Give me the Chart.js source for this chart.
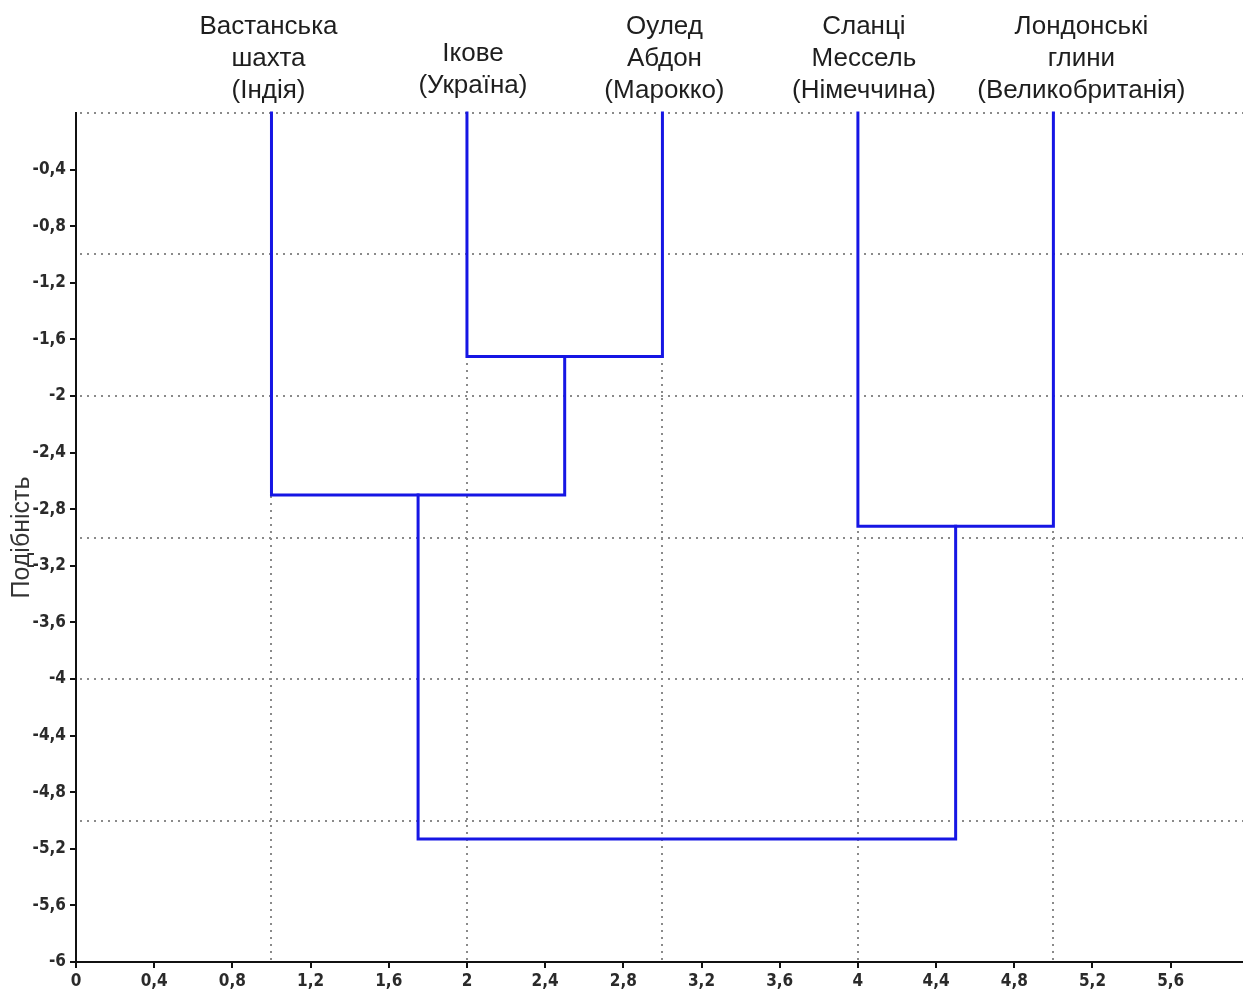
<!DOCTYPE html>
<html>
<head>
<meta charset="utf-8">
<script src="https://cdn.jsdelivr.net/npm/chart.js@4"></script>
<style>
  html, body { margin: 0; padding: 0; background: #fff; overflow: hidden; }
  #wrap { width: 1243px; height: 992px; position: relative; }
</style>
</head>
<body>
<div id="wrap"><canvas id="c"></canvas></div>
<script>
// Leaves of the dendrogram (multi-line names) and their positions on the x axis
const leafNames = [
  ['Вастанська', 'шахта', '(Індія)'],
  ['Ікове', '(Україна)'],
  ['Оулед', 'Абдон', '(Марокко)'],
  ['Сланці', 'Мессель', '(Німеччина)'],
  ['Лондонські', 'глини', '(Великобританія)']
];
const leafX = [1, 2, 3, 4, 5];

// Merge steps: node indices joined (0-4 are leaves, 5+ are earlier merges) and the joining level
const mergeA = [1, 0, 3, 6];
const mergeB = [2, 5, 4, 7];
const mergeHeight = [-1.72, -2.70, -2.92, -5.13];

// Axis ticks and dotted reference lines
const xTicks = [0, 0.4, 0.8, 1.2, 1.6, 2, 2.4, 2.8, 3.2, 3.6, 4, 4.4, 4.8, 5.2, 5.6];
const yTicks = [-0.4, -0.8, -1.2, -1.6, -2, -2.4, -2.8, -3.2, -3.6, -4, -4.4, -4.8, -5.2, -5.6, -6];
const xGrid = [1, 2, 3, 4, 5];
const yGrid = [0, -1, -2, -3, -4, -5];
const xRange = [0, 5.97];
const yRange = [-6, 0];
const yTitle = 'Подібність';

// Build one U-shaped link per merge step
const nodeX = leafX.slice();
const nodeY = leafX.map(() => 0);
const datasets = [];
mergeA.forEach((a, i) => {
  const b = mergeB[i];
  const h = mergeHeight[i];
  datasets.push({
    data: [
      { x: nodeX[a], y: nodeY[a] },
      { x: nodeX[a], y: h },
      { x: nodeX[b], y: h },
      { x: nodeX[b], y: nodeY[b] }
    ],
    showLine: true,
    borderColor: 'rgb(22,22,228)',
    borderWidth: 3,
    borderJoinStyle: 'miter',
    borderCapStyle: 'square',
    pointRadius: 0,
    tension: 0,
    clip: false
  });
  nodeX.push((nodeX[a] + nodeX[b]) / 2);
  nodeY.push(h);
});

const fmt = v => String(+Number(v).toFixed(1)).replace('.', ',');
const tickFont = { family: '"DejaVu Sans Condensed", "DejaVu Sans Mono", monospace', size: 17, weight: 'bold' };

const decorations = {
  id: 'decorations',
  beforeDatasetsDraw(chart) {
    const { ctx, chartArea: a, scales: { x, y } } = chart;
    ctx.save();
    ctx.strokeStyle = '#8a8a8a';
    ctx.lineWidth = 2;
    ctx.setLineDash([2, 5]);
    yGrid.forEach(v => {
      const py = Math.round(y.getPixelForValue(v));
      ctx.beginPath();
      ctx.moveTo(a.left + 4, py);
      ctx.lineTo(a.right, py);
      ctx.stroke();
    });
    xGrid.forEach(v => {
      const px = Math.round(x.getPixelForValue(v));
      ctx.beginPath();
      ctx.moveTo(px, a.bottom - 2);
      ctx.lineTo(px, a.top);
      ctx.stroke();
    });
    ctx.restore();
  },
  afterDraw(chart) {
    const { ctx, chartArea: a, scales: { x } } = chart;
    ctx.save();
    ctx.fillStyle = '#1e1e1e';
    ctx.font = '26px "Liberation Sans", Arial, sans-serif';
    ctx.textAlign = 'center';
    ctx.textBaseline = 'middle';
    const shiftX = [-3, 6, 2, 6, 28];
    const shiftY = [0, -5, 0, 0, 0];
    leafNames.forEach((lines, i) => {
      const px = x.getPixelForValue(leafX[i]) + shiftX[i];
      const n = lines.length;
      lines.forEach((t, j) => {
        ctx.fillText(t, px, 91 + shiftY[i] - 32 * (n - 1 - j));
      });
    });
    ctx.translate(22, (a.top + a.bottom) / 2);
    ctx.rotate(-Math.PI / 2);
    ctx.font = '25px "Liberation Sans", Arial, sans-serif';
    ctx.fillStyle = '#333';
    ctx.fillText(yTitle, 0, 0);
    ctx.restore();
  }
};

new Chart(document.getElementById('c'), {
  type: 'scatter',
  data: { datasets },
  options: {
    responsive: true,
    maintainAspectRatio: false,
    animation: false,
    layout: { padding: { top: 113, right: 0, left: 0, bottom: 0 } },
    plugins: { legend: { display: false }, tooltip: { enabled: false } },
    scales: {
      x: {
        type: 'linear',
        min: xRange[0],
        max: xRange[1],
        afterBuildTicks: s => { s.ticks = xTicks.map(v => ({ value: v })); },
        afterFit: s => { s.height = 30; },
        border: { display: true, color: '#111', width: 2 },
        grid: { drawOnChartArea: false, drawTicks: true, tickLength: 6, color: '#111', lineWidth: 2 },
        ticks: {
          callback: v => fmt(v),
          color: '#2a2a2a',
          padding: 3,
          maxRotation: 0,
          autoSkip: false,
          font: tickFont
        }
      },
      y: {
        type: 'linear',
        min: yRange[0],
        max: yRange[1],
        afterBuildTicks: s => { s.ticks = yTicks.map(v => ({ value: v })); },
        afterFit: s => { s.width = 76; },
        border: { display: true, color: '#111', width: 2 },
        grid: { drawOnChartArea: false, drawTicks: true, tickLength: 6, color: '#111', lineWidth: 2 },
        ticks: {
          callback: v => fmt(v),
          color: '#2a2a2a',
          padding: 4,
          autoSkip: false,
          font: tickFont
        }
      }
    }
  },
  plugins: [decorations]
});
</script>
</body>
</html>
